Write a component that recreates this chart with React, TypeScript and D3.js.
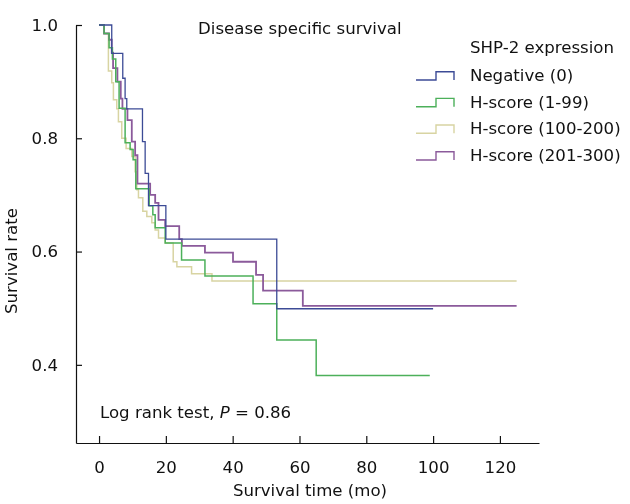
import * as d3 from "d3";
import { useEffect, useRef } from "react";

// Kaplan-Meier steps: [months, survival after the drop]
const negative: [number, number][] = [
    [0, 1.0], [3.8, 0.95], [7.1, 0.906], [7.8, 0.87], [8.3, 0.852],
    [13.0, 0.794], [13.8, 0.738], [14.8, 0.681], [20.0, 0.622], [53.2, 0.499],
];
const hscore1to99: [number, number][] = [
    [0, 1.0], [1.5, 0.985], [3.0, 0.96], [4.0, 0.94], [5.0, 0.9], [6.0, 0.853],
    [7.8, 0.792], [9.3, 0.78], [10.2, 0.762], [11.0, 0.711], [15.0, 0.681],
    [16.1, 0.665], [16.8, 0.642], [19.8, 0.615], [24.7, 0.585], [31.7, 0.557],
    [46.1, 0.508], [53.2, 0.444], [65.0, 0.381],
];
const hscore100to200: [number, number][] = [
    [0, 1.0], [1.5, 0.985], [2.8, 0.919], [3.8, 0.898], [4.3, 0.868],
    [5.3, 0.852], [5.8, 0.829], [6.8, 0.8], [8.1, 0.782], [9.8, 0.768],
    [10.8, 0.741], [11.3, 0.709], [11.8, 0.695], [13.1, 0.671], [14.3, 0.662],
    [15.8, 0.651], [16.8, 0.638], [17.8, 0.624], [19.8, 0.615], [22.2, 0.582],
    [23.3, 0.573], [27.7, 0.561], [33.8, 0.548],
];
const hscore201to300: [number, number][] = [
    [0, 1.0], [1.5, 0.985], [3.0, 0.974], [3.8, 0.951], [4.2, 0.924],
    [5.5, 0.9], [6.5, 0.87], [7.0, 0.852], [8.5, 0.832], [9.8, 0.794],
    [10.8, 0.77], [11.5, 0.72], [15.3, 0.7], [16.8, 0.686], [17.8, 0.656],
    [19.8, 0.645], [24.0, 0.622], [24.8, 0.61], [31.7, 0.598], [40.1, 0.582],
    [47.0, 0.559], [49.1, 0.531], [61.0, 0.504],
];

const groupLabels = ["Negative (0)", "H-score (1-99)", "H-score (100-200)", "H-score (201-300)"];
const groupData = [negative, hscore1to99, hscore100to200, hscore201to300];
const lastFollowUp = [100, 99, 125, 125];
const groupColors = ["#3c4b96", "#4cb05a", "#d8d4a2", "#8b5a9b"];
const groupWidths = [1.3, 1.5, 1.5, 1.8];
const drawOrder = [2, 3, 1, 0];

const xTicks = [0, 20, 40, 60, 80, 100, 120];
const yTicks = [0.4, 0.6, 0.8, 1.0];

const FONT = "DejaVu Sans, Verdana, sans-serif";
const FS = 16.6;

export default function App() {
    const ref = useRef<SVGSVGElement | null>(null);

    useEffect(() => {
        if (!ref.current) return;
        const svg = d3.select(ref.current);
        svg.selectAll("*").remove();

        const width = 630;
        const height = 504;
        svg.attr("width", width).attr("height", height);

        const x = d3.scaleLinear().domain([-6.9, 131.7]).range([76, 539]);
        const y = d3.scaleLinear().domain([0.262, 1.0]).range([443, 25]);

        const line = d3
            .line<[number, number]>()
            .x((d) => x(d[0]))
            .y((d) => y(d[1]))
            .curve(d3.curveStepAfter);

        for (const i of drawOrder) {
            const pts = groupData[i];
            const series: [number, number][] = [...pts, [lastFollowUp[i], pts[pts.length - 1][1]]];
            svg.append("path")
                .datum(series)
                .attr("fill", "none")
                .attr("stroke", groupColors[i])
                .attr("stroke-width", groupWidths[i])
                .attr("d", line);
        }

        // axes, ticks pointing inward
        const xAxis = svg
            .append("g")
            .attr("transform", `translate(0,${y.range()[0]})`)
            .call(
                d3
                    .axisBottom(x)
                    .tickValues(xTicks)
                    .tickSizeInner(-7)
                    .tickSizeOuter(0)
                    .tickPadding(18)
                    .tickFormat(d3.format("d")),
            );
        const yAxis = svg
            .append("g")
            .attr("transform", `translate(${x.range()[0]},0)`)
            .call(
                d3
                    .axisLeft(y)
                    .tickValues(yTicks)
                    .tickSizeInner(-6)
                    .tickSizeOuter(0)
                    .tickPadding(18)
                    .tickFormat(d3.format(".1f")),
            );
        for (const ax of [xAxis, yAxis]) {
            ax.attr("font-family", FONT).attr("font-size", FS);
            ax.selectAll("path, line").attr("stroke", "#111").attr("stroke-width", 1.2);
            ax.selectAll("text").attr("fill", "#111");
        }

        const txt = (tx: number, ty: number, s: string) =>
            svg
                .append("text")
                .attr("x", tx)
                .attr("y", ty)
                .attr("font-family", FONT)
                .attr("font-size", FS)
                .attr("fill", "#111")
                .text(s);

        txt(198, 34, "Disease specific survival");
        txt(310, 496, "Survival time (mo)").attr("text-anchor", "middle");
        svg.append("text")
            .attr("transform", "rotate(-90)")
            .attr("x", -261)
            .attr("y", 17)
            .attr("text-anchor", "middle")
            .attr("font-family", FONT)
            .attr("font-size", FS)
            .attr("fill", "#111")
            .text("Survival rate");

        const logRank = txt(100, 417.5, "Log rank test, ");
        logRank.append("tspan").attr("font-style", "italic").text("P");
        logRank.append("tspan").text(" = 0.86");

        // legend
        txt(470, 52.5, "SHP-2 expression");
        const rowCenters = [75, 101.7, 128.3, 155];
        groupLabels.forEach((label, i) => {
            const cy = rowCenters[i];
            svg.append("path")
                .attr("fill", "none")
                .attr("stroke", groupColors[i])
                .attr("stroke-width", 1.4)
                .attr("d", `M416,${cy + 5}H436V${cy - 3.3}H454V${cy + 5}`);
            txt(470, cy + 5.8, label);
        });
    }, []);

    return (
        <div style={{ position: "fixed", left: 0, top: 0 }}>
            <svg ref={ref}></svg>
        </div>
    );
}
